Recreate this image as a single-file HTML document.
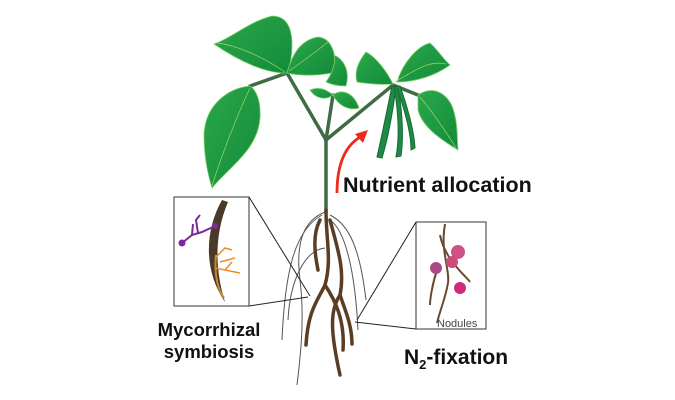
<!DOCTYPE html>
<html><head><meta charset="utf-8"><style>
html,body{margin:0;padding:0;background:#fff;width:675px;height:400px;overflow:hidden}
svg{display:block}
text{font-family:"Liberation Sans",sans-serif;font-weight:bold;fill:#111}
</style></head><body>
<svg width="675" height="400" viewBox="0 0 675 400">
<defs>
<linearGradient id="lf" x1="0" y1="0" x2="1" y2="1"><stop offset="0" stop-color="#2aa84a"/><stop offset="1" stop-color="#138a3a"/></linearGradient>
</defs>
<g stroke="#3f6b45" stroke-width="3.5" fill="none" stroke-linecap="round">
<path d="M326 212 L326 140"/>
<path d="M326 140 L287 73"/>
<path d="M326 140 L393 85"/>
<path d="M326 140 L333 95"/>
<path d="M287 73 L250 86"/>
<path d="M393 85 L418 95"/>
</g>
<g fill="url(#lf)" stroke="#7fcf6a" stroke-width="0.8">
<path d="M250 86 C228 88 205 105 204 135 C204 158 208 175 212 188 C228 168 258 150 260 118 C261 100 256 90 250 86Z"/>
<path d="M287 73 C268 74 240 62 214 44 C232 38 248 22 272 16 C288 16 292 30 292 45 C292 58 290 66 287 73Z"/>
<path d="M287 73 C292 55 300 40 318 37 C330 38 336 50 336 72 C320 76 300 76 287 73Z"/>
<path d="M326 82 C333 72 336 62 334 55 C345 60 350 72 346 86 C338 86 332 85 326 82Z"/>
<path d="M333 95 C325 88 317 87 310 90 C315 98 325 101 333 95Z"/>
<path d="M333 95 C342 88 354 93 359 108 C348 111 338 105 333 95Z"/>
<path d="M393 84 C385 68 374 56 366 52 C358 62 354 72 357 82 C370 84 382 85 393 84Z"/>
<path d="M397 82 C403 62 418 46 430 43 C438 50 444 60 450 65 C435 76 415 82 397 82Z"/>
<path d="M418 95 C434 84 450 95 454 112 C458 126 457 140 458 150 C445 142 422 128 418 110Z"/>
</g>
<g stroke="#9ad96b" stroke-width="0.7" fill="none">
<path d="M250 88 C235 120 220 160 212 186"/><path d="M285 72 C260 55 235 45 217 43"/>
<path d="M289 71 C305 60 318 50 328 42"/><path d="M395 82 C415 70 430 60 446 64"/>
<path d="M420 97 C435 115 448 135 456 148"/>
</g>
<g fill="#1f8a46" stroke="#156b34" stroke-width="1">
<path d="M392 86 C387 110 382 135 377 157 L382 158 C389 135 393 110 396 87Z"/>
<path d="M394 86 C398 110 400 135 396 157 L401 156 C404 135 402 110 398 86Z"/>
<path d="M396 86 C403 105 411 130 411 150 L415 148 C414 130 407 105 400 86Z"/>
</g>
<path d="M337 193 C337 165 345 145 362 136" stroke="#f02a1a" stroke-width="2.8" fill="none"/>
<path d="M368 130 L355 134 L363 143Z" fill="#f02a1a"/>
<text x="343" y="192" font-size="21.5">Nutrient allocation</text>
<g stroke="#555" stroke-width="1" fill="none">
<path d="M325 212 C305 220 295 240 300 280 C305 320 300 360 297 385"/>
<path d="M322 215 C295 230 285 270 282 340"/>
<path d="M325 248 C305 250 290 280 288 320"/>
<path d="M330 215 C350 225 360 250 366 300"/>
<path d="M330 220 C345 230 355 270 358 330"/>
</g>
<g stroke="#5a3d22" stroke-width="3.5" fill="none" stroke-linecap="round">
<path d="M326 210 C326 240 332 260 325 285 C318 300 308 310 306 345"/>
<path d="M325 285 C335 300 345 320 343 350"/>
<path d="M330 220 C338 250 345 270 340 295 C345 310 352 325 352 344"/>
<path d="M340 295 C330 310 330 330 340 375"/>
<path d="M320 220 C312 235 315 255 318 270"/>
</g>
<rect x="174" y="197" width="75" height="109" fill="#fff" stroke="#333" stroke-width="1"/>
<path d="M249 197 L310 296 M249 306 L308 297" stroke="#222" stroke-width="1"/>
<path d="M222 200 C205 230 203 270 225 302 C215 270 214 235 228 202Z" fill="#4a3a2a"/>
<path d="M216 255 C214 275 218 290 224 298" stroke="#c78a2a" stroke-width="2" fill="none"/>
<g stroke="#7a2a9a" stroke-width="2" fill="none"><path d="M182 243 L192 235 L202 232 L215 226"/><path d="M192 235 L193 224"/><path d="M198 233 L196 220 L200 215"/></g>
<circle cx="182" cy="243" r="3.5" fill="#7a2a9a"/><circle cx="215" cy="226" r="3" fill="#7a2a9a"/>
<g stroke="#f28a2a" stroke-width="1.5" fill="none"><path d="M215 268 L240 273"/><path d="M215 258 L225 248 L232 250"/><path d="M220 262 L235 258"/><path d="M225 270 L232 262"/></g>
<rect x="416" y="222" width="70" height="107" fill="#fff" stroke="#333" stroke-width="1"/>
<path d="M416 222 L357 320 M416 329 L355 322" stroke="#222" stroke-width="1"/>
<g stroke="#6a4a30" stroke-width="2" fill="none"><path d="M445 224 C440 250 450 270 448 283 C445 300 440 310 437 323"/><path d="M440 235 C445 260 465 275 470 282"/><path d="M437 270 C432 285 430 300 430 305"/></g>
<circle cx="458" cy="252" r="7" fill="#c8407a" opacity="0.9"/><circle cx="452" cy="262" r="6" fill="#d04a7e"/>
<circle cx="436" cy="268" r="6" fill="#a84a8a"/><circle cx="460" cy="288" r="6" fill="#d02a7a"/>
<text x="437" y="327" font-size="11" style="font-weight:normal;fill:#444">Nodules</text>
<text x="209" y="336" font-size="18.5" text-anchor="middle">Mycorrhizal</text>
<text x="209" y="358" font-size="18.5" text-anchor="middle">symbiosis</text>
<text x="404" y="364" font-size="21">N<tspan font-size="13" dy="5">2</tspan><tspan dy="-5">-fixation</tspan></text>
</svg>
</body></html>
